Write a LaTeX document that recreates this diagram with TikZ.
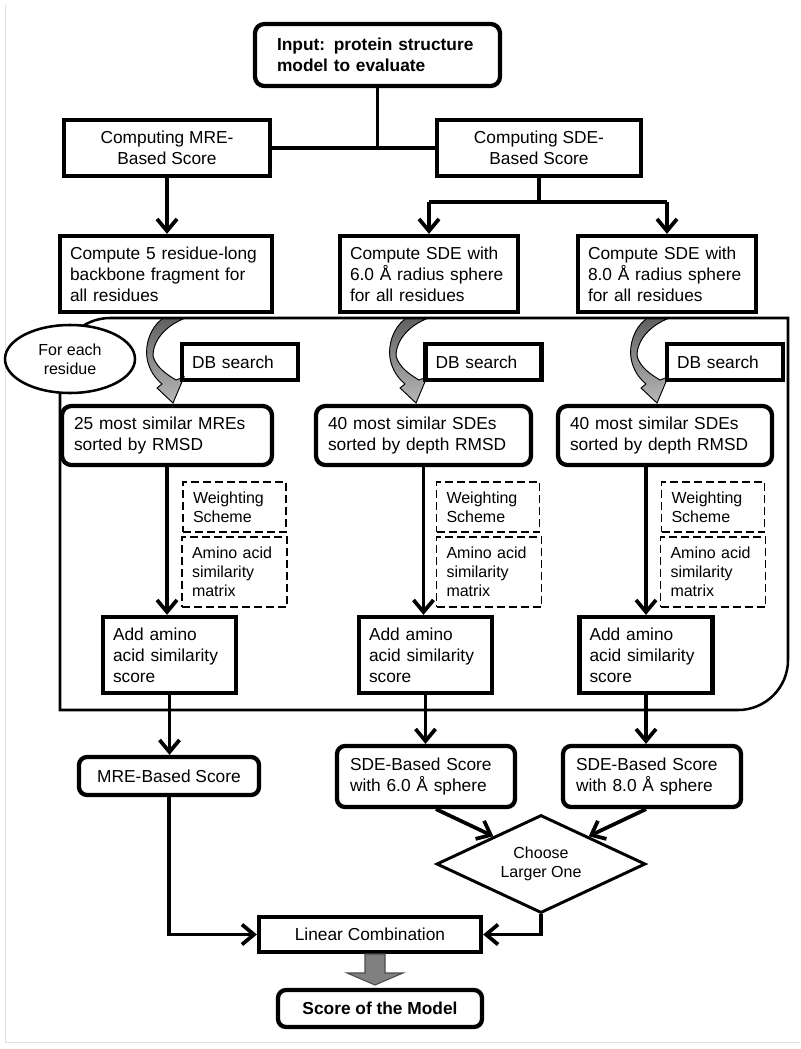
\documentclass[tikz,border=0pt]{standalone}
\usepackage{fontspec}
\setmainfont{Liberation Sans}
\usetikzlibrary{arrows.meta,shapes.geometric,calc}
\newcommand\fmain{\fontsize{13}{15.8}\selectfont}
\newcommand\fsml{\fontsize{12}{14.2}\selectfont}
\newcommand\curvarrow[1]{%
  \begin{scope}[shift={(#1,0)}]
    \filldraw[cshade] (162,319) .. controls (150,328) and (145,345) .. (147,358)
      .. controls (149,370) and (155,378) .. (162,384) -- (157,388) -- (173,403)
      -- (184,377) -- (176,380) .. controls (166,374) and (156,367) .. (153,356)
      .. controls (153,340) and (166,326) .. (183,319) -- cycle;
  \end{scope}}
\begin{document}
\begin{tikzpicture}[x=0.75pt,y=-0.75pt,
  box/.style={draw, line width=3.2pt, font=\fmain, inner ysep=1pt},
  rbox/.style={box, rounded corners=6pt},
  dbox/.style={draw, dash pattern=on 6pt off 3pt, line width=1.3pt, font=\fsml,
    align=left, inner ysep=1pt, inner xsep=7.5pt},
  conn/.style={line width=2.8pt},
  arr/.style={conn, -{Straight Barb[length=9pt,width=15pt]}},
  region/.style={line width=1.9pt},
  cshade/.style={top color=black!62, bottom color=black!28, draw=black, line width=0.7pt},
]
\useasboundingbox (0,0) rectangle (800,1049);
% faint frame of the picture
\draw[black!12, line width=0.75pt] (5,5) -- (5,1042) -- (800,1042);

% loop region
\draw[region] (60,368) -- (60,710) -- (738,710)
  .. controls (765.6,710) and (788,687.6) .. (788,660) -- (788,318) -- (110,318)
  .. controls (82.4,318) and (60,340.4) .. (60,368) -- cycle;

% top
\node[rbox, rounded corners=7pt, align=left, text width=150.75pt, inner xsep=16.5pt,
  minimum height=46.5pt, font=\fmain\bfseries] (in) at (377.5,55)
  {Input: protein structure\\model to evaluate};
\node[box, align=center, minimum width=154.5pt, minimum height=42pt] (mre) at (167,148)
  {Computing MRE-\\Based Score};
\node[box, align=center, minimum width=153pt, minimum height=42pt] (sde) at (539,148)
  {Computing SDE-\\Based Score};

\node[box, align=left, text width=144pt, inner xsep=7.5pt, minimum height=57pt] (c5) at (166,274)
  {Compute 5 residue-long\\backbone fragment for\\all residues};
\node[box, align=left, text width=118.5pt, inner xsep=7.5pt, minimum height=57pt] (c6) at (429,274)
  {Compute SDE with\\6.0 Å radius sphere\\for all residues};
\node[box, align=left, text width=118.5pt, inner xsep=7.5pt, minimum height=57pt] (c8) at (667,274)
  {Compute SDE with\\8.0 Å radius sphere\\for all residues};

% loop contents
\node[draw, ellipse, line width=1.9pt, fill=white, minimum width=97.5pt, minimum height=51pt,
  inner sep=1pt, align=center, font=\fsml] (fe) at (70,359) {For each\\residue};

\curvarrow{0}
\curvarrow{243}
\curvarrow{484}

\node[box, align=left, text width=72pt, inner xsep=7.5pt, minimum height=27pt] (db1) at (240,362) {DB search};
\node[box, align=left, text width=72pt, inner xsep=7.5pt, minimum height=27pt] (db2) at (483.5,362) {DB search};
\node[box, align=left, text width=72pt, inner xsep=7.5pt, minimum height=27pt] (db3) at (725,362) {DB search};

\node[rbox, rounded corners=7pt, align=left, text width=139.5pt, inner xsep=9pt, minimum height=44.25pt] (s25) at (167,435.5)
  {25 most similar MREs\\sorted by RMSD};
\node[rbox, rounded corners=7pt, align=left, text width=143.25pt, inner xsep=9pt, minimum height=44.25pt] (s40a) at (423.5,435.5)
  {40 most similar SDEs\\sorted by depth RMSD};
\node[rbox, rounded corners=7pt, align=left, text width=142.5pt, inner xsep=9pt, minimum height=44.25pt] (s40b) at (665,435.5)
  {40 most similar SDEs\\sorted by depth RMSD};

\node[dbox, text width=62.25pt, minimum height=37.5pt] (ws1) at (234.5,507) {Weighting\\Scheme};
\node[dbox, text width=62.25pt, minimum height=37.5pt] (ws2) at (488,507) {Weighting\\Scheme};
\node[dbox, text width=62.25pt, minimum height=37.5pt] (ws3) at (713,507) {Weighting\\Scheme};
\node[dbox, text width=63.75pt, minimum height=52.5pt] (aa1) at (234.5,572) {Amino acid\\similarity\\matrix};
\node[dbox, text width=63.75pt, minimum height=52.5pt] (aa2) at (489,572) {Amino acid\\similarity\\matrix};
\node[dbox, text width=63.75pt, minimum height=52.5pt] (aa3) at (713,572) {Amino acid\\similarity\\matrix};

\node[box, align=left, text width=84.75pt, inner xsep=7.5pt, minimum height=57pt] (add1) at (169.5,655)
  {Add amino\\acid similarity\\score};
\node[box, align=left, text width=84.75pt, inner xsep=7.5pt, minimum height=57pt] (add2) at (425.5,655)
  {Add amino\\acid similarity\\score};
\node[box, align=left, text width=84.75pt, inner xsep=7.5pt, minimum height=57pt] (add3) at (646,655)
  {Add amino\\acid similarity\\score};

% bottom
\node[rbox, align=center, minimum width=135pt, minimum height=28.5pt] (mreS) at (169,776) {MRE-Based Score};
\node[rbox, align=left, text width=114pt, inner xsep=9.75pt, minimum height=45.75pt] (sde6) at (426,776.5)
  {SDE-Based Score\\with 6.0 Å sphere};
\node[rbox, align=left, text width=114pt, inner xsep=9.75pt, minimum height=45.75pt] (sde8) at (652,776.5)
  {SDE-Based Score\\with 8.0 Å sphere};
\node[draw, diamond, aspect=2.1, line width=2.2pt, minimum width=156.75pt, minimum height=73.5pt,
  inner sep=1pt, align=center, font=\fsml] (dia) at (541,864) {Choose\\Larger One};
\node[box, align=center, minimum width=166.5pt, minimum height=26.25pt] (lc) at (370,934.5) {Linear Combination};
\node[rbox, align=center, minimum width=153pt, minimum height=27.75pt, font=\fmain\bfseries] (som) at (380,1008.5)
  {Score of the Model};

% connectors
\draw[conn] (in.south) -- (in.south |- mre.east);
\draw[conn] (mre.east) -- (sde.west);
\draw[arr] (mre.south) -- (mre.south |- c5.north);
\coordinate (j) at ($(sde.south)+(0,24)$);
\draw[conn] (sde.south) -- (j);
\draw[conn] (c6.north |- j) -- (c8.north |- j);
\draw[arr] (c6.north |- j) -- (c6.north);
\draw[arr] (c8.north |- j) -- (c8.north);

\draw[arr] (s25.south) -- (s25.south |- add1.north);
\draw[arr] (s40a.south) -- (s40a.south |- add2.north);
\draw[arr] (add3.north |- s40b.south) -- (add3.north);

\draw[arr] (add1.south) -- (add1.south |- mreS.north);
\draw[arr] (add2.south) -- (add2.south |- sde6.north);
\draw[arr] (add3.south) -- (add3.south |- sde8.north);

\draw[arr] ($(sde6.south)+(10,0)$) -- ($(dia.north west)!0.1!(dia.north)$);
\draw[arr] ($(sde8.south)+(-6,0)$) -- ($(dia.north east)!0.1!(dia.north)$);
\draw[arr] (mreS.south) |- (lc.west);
\draw[arr] (dia.south) |- (lc.east);

% block arrow to final score
\filldraw[fill=black!50, draw=black!70, line width=0.8pt]
  (365,954) -- (385,954) -- (385,973) -- (403,973) -- (375,985) -- (347,973) -- (365,973) -- cycle;
\end{tikzpicture}
\end{document}
